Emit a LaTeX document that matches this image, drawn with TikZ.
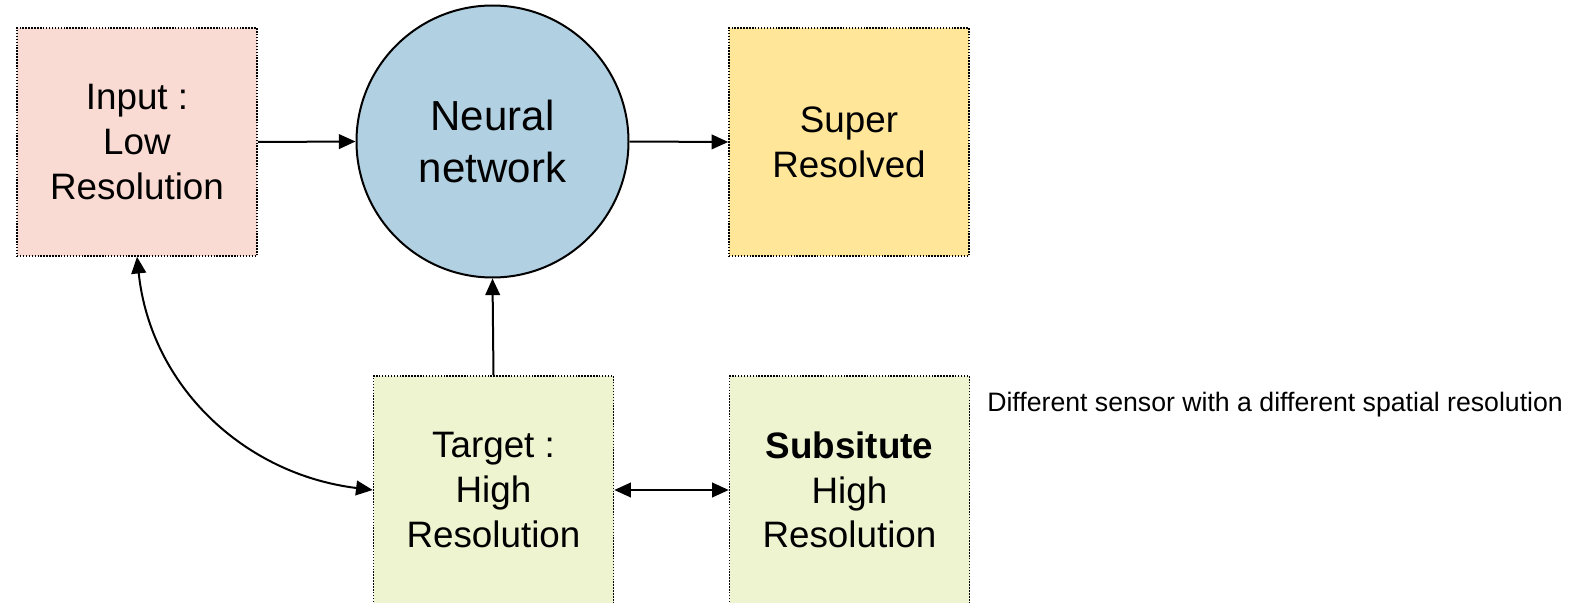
\documentclass[tikz,border=0pt]{standalone}
\usepackage{fontspec}
\setmainfont{Liberation Sans}
\usetikzlibrary{arrows.meta}
\definecolor{lowfill}{RGB}{249,219,211}
\definecolor{netfill}{RGB}{177,208,225}
\definecolor{superfill}{RGB}{255,230,153}
\definecolor{highfill}{RGB}{239,244,208}
\tikzset{
  databox/.style={draw=black, line width=1.2pt, dash pattern=on 1.1pt off 1.1pt,
    minimum width=180pt, minimum height=171pt, inner sep=0pt, align=center,
    font=\fontsize{27.6}{33.6}\selectfont},
  netnode/.style={circle, draw=black, line width=1.5pt, fill=netfill,
    minimum size=204pt, inner sep=0pt, align=center,
    font=\fontsize{31.5}{38.5}\selectfont},
  tip/.tip={Triangle[length=12.5pt,width=11pt]},
  link/.style={line width=1.5pt, -tip},
  biglink/.style={line width=1.5pt, tip-tip},
  note/.style={anchor=west, inner sep=0pt, font=\fontsize{20}{24}\selectfont}
}
\begin{document}
\begin{tikzpicture}[x=0.75pt, y=-0.75pt]
  \useasboundingbox (0,0) rectangle (1586,603);
  % boxes
  \node[databox, fill=lowfill]   (input)  at (137,142)   {Input :\\Low\\Resolution};
  \node[netnode]                 (nn)     at (492.5,141.5) {Neural\\network};
  \node[databox, fill=superfill] (super)  at (849,142)   {Super\\Resolved};
  \node[databox, fill=highfill]  (target) at (493.5,490) {Target :\\High\\Resolution};
  \node[databox, fill=highfill]  (subst)  at (849.5,490) {\textbf{Subsitute}\\High\\Resolution};
  \node[note] (sensor) at (987,405) {Different sensor with a different spatial resolution};
  % connectors
  \draw[link] (input.east) -- (nn.west);
  \draw[link] (nn.east) -- (super.west);
  \draw[link] (target.north) -- (nn.south);
  \draw[biglink] (target.east) -- (subst.west);
  \draw[biglink] (input.south) to[out=-84, in=173, looseness=1] (target.west);
\end{tikzpicture}
\end{document}
